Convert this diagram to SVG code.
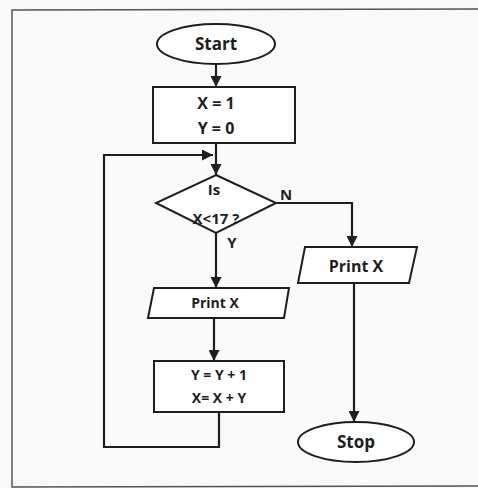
<svg xmlns="http://www.w3.org/2000/svg" width="478" height="488" viewBox="0 0 478 488">
<style>
.s{fill:#fff;stroke:#1e1e1e;stroke-width:2}
.c{fill:none;stroke:#1e1e1e;stroke-width:2.2}
.t{font-family:"Open Sans","Liberation Sans",sans-serif;font-weight:bold;fill:#1e1e1e;text-anchor:middle}
</style>
<defs>
<marker id="a" viewBox="0 0 10 10" refX="10" refY="5" markerWidth="5" markerHeight="5" orient="auto-start-reverse" markerUnits="strokeWidth">
<path d="M0,0 L10,5 L0,10 z" fill="#1e1e1e"/>
</marker>
</defs>
<rect x="0" y="0" width="478" height="488" fill="#fafafa"/>
<path d="M478,486 L12,487 L12,10 L478,9" fill="none" stroke="#555" stroke-width="1.5"/>
<g id="connectors">
<path class="c" d="M216,65 L216,87" marker-end="url(#a)"/>
<path class="c" d="M216,143 L216,175" marker-end="url(#a)"/>
<path class="c" d="M276,203 L352,203 L352,247" marker-end="url(#a)"/>
<path class="c" d="M216,233 L216,288" marker-end="url(#a)"/>
<path class="c" d="M214,318 L214,361" marker-end="url(#a)"/>
<path class="c" d="M219,412 L219,447 L104,447 L104,155 L213,155" marker-end="url(#a)"/>
<path class="c" d="M354,283 L354,422" marker-end="url(#a)"/>
</g>
<g id="start">
<ellipse class="s" cx="216" cy="44" rx="59" ry="20"/>
<text class="t" x="216" y="50" font-size="17">Start</text>
</g>
<g id="init">
<rect class="s" x="153" y="87" width="142" height="56"/>
<text class="t" x="216" y="109" font-size="16">X = 1</text>
<text class="t" x="216" y="134" font-size="16">Y = 0</text>
</g>
<g id="decision">
<polygon class="s" points="216,175 276,203 216,233 156,203"/>
<text class="t" x="214" y="195" font-size="15">Is</text>
<text class="t" x="216" y="224" font-size="15">X&lt;17 ?</text>
<text class="t" x="286" y="200" font-size="15">N</text>
<text class="t" x="232" y="248" font-size="15">Y</text>
</g>
<g id="printLeft">
<polygon class="s" points="154,288 289,288 284,318 148,318"/>
<text class="t" x="215" y="308" font-size="14">Print X</text>
</g>
<g id="update">
<rect class="s" x="154" y="361" width="130" height="51"/>
<text class="t" x="219" y="380" font-size="14">Y = Y + 1</text>
<text class="t" x="219" y="403" font-size="14">X= X + Y</text>
</g>
<g id="printRight">
<polygon class="s" points="305,247 417,247 409,283 298,283"/>
<text class="t" x="356" y="272" font-size="16">Print X</text>
</g>
<g id="stop">
<ellipse class="s" cx="356" cy="442" rx="58" ry="20"/>
<text class="t" x="356" y="448" font-size="17">Stop</text>
</g>
</svg>
